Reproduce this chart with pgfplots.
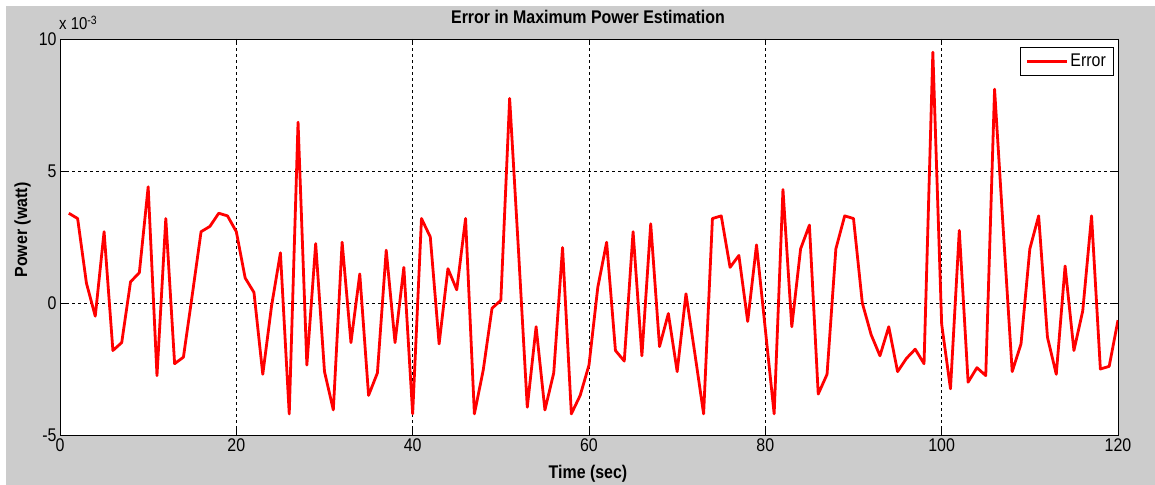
\documentclass[border=0pt]{standalone}
\usepackage{fontspec}
\setmainfont{Liberation Sans}
\usepackage{graphicx}
\usepackage{pgfplots}
\pgfplotsset{compat=1.18}
\definecolor{figgray}{RGB}{204,204,204}
\newcommand{\tall}[1]{\scalebox{1}[1.15]{#1}}
\begin{document}
\begin{tikzpicture}
\fill[white] (0,0) rectangle (1155bp,485bp);
\fill[figgray] (6bp,0) rectangle (1155bp,479bp);
\begin{axis}[
  at={(60bp,50bp)}, anchor=south west, scale only axis,
  width=1058bp, height=396bp,
  xmin=0, xmax=120, ymin=-5, ymax=10,
  xtick={0,20,...,120}, ytick={-5,0,5,10},
  xticklabel={\tall{\pgfmathprintnumber{\tick}}},
  yticklabel={\tall{\pgfmathprintnumber{\tick}}},
  axis background/.style={fill=white},
  grid=major,
  major grid style={black, dash pattern=on 3bp off 3bp, line width=0.6bp},
  tick align=inside, major tick length=6bp,
  tick style={black, line width=0.8bp},
  axis line style={black, line width=0.8bp},
  tick label style={font=\fontsize{16}{19}\selectfont},
  /pgf/number format/assume math mode=true,
  legend style={at={(1,1)}, anchor=north east, xshift=-5bp, yshift=-8bp,
    draw=black, fill=white, font=\fontsize{16}{19}\selectfont,
    inner xsep=5bp, inner ysep=5bp},
  legend cell align=left,
  legend image code/.code={\draw[#1] (0bp,0bp) -- (40bp,0bp);},
]
\addplot[red, line width=2.8bp, line join=round] coordinates {
(1,3.4) (2,3.2) (3,0.75) (4,-0.5) (5,2.7) (6,-1.8) (7,-1.5) (8,0.8) (9,1.15) (10,4.4)
(11,-2.75) (12,3.2) (13,-2.3) (14,-2.05) (15,0.3) (16,2.7) (17,2.9) (18,3.4) (19,3.3) (20,2.7)
(21,0.95) (22,0.4) (23,-2.7) (24,-0.1) (25,1.9) (26,-4.2) (27,6.85) (28,-2.35) (29,2.25) (30,-2.6)
(31,-4.05) (32,2.3) (33,-1.5) (34,1.1) (35,-3.5) (36,-2.65) (37,2.0) (38,-1.5) (39,1.35) (40,-4.2)
(41,3.2) (42,2.5) (43,-1.55) (44,1.3) (45,0.5) (46,3.2) (47,-4.2) (48,-2.55) (49,-0.2) (50,0.1)
(51,7.75) (52,2.0) (53,-3.95) (54,-0.9) (55,-4.05) (56,-2.65) (57,2.1) (58,-4.2) (59,-3.5) (60,-2.35)
(61,0.6) (62,2.3) (63,-1.8) (64,-2.2) (65,2.7) (66,-2.0) (67,3.0) (68,-1.65) (69,-0.4) (70,-2.6)
(71,0.35) (72,-1.9) (73,-4.2) (74,3.2) (75,3.3) (76,1.35) (77,1.8) (78,-0.7) (79,2.2) (80,-1.0)
(81,-4.2) (82,4.3) (83,-0.9) (84,2.05) (85,2.95) (86,-3.45) (87,-2.7) (88,2.05) (89,3.3) (90,3.2)
(91,0.0) (92,-1.2) (93,-2.0) (94,-0.9) (95,-2.6) (96,-2.1) (97,-1.75) (98,-2.3) (99,9.5) (100,-0.8)
(101,-3.25) (102,2.75) (103,-3.0) (104,-2.45) (105,-2.75) (106,8.1) (107,2.7) (108,-2.6) (109,-1.55) (110,2.05)
(111,3.3) (112,-1.3) (113,-2.7) (114,1.4) (115,-1.8) (116,-0.3) (117,3.3) (118,-2.5) (119,-2.4) (120,-0.65)
};
\addlegendentry{\tall{Error}}
\end{axis}
\node[font=\fontsize{16}{19}\selectfont\bfseries, anchor=base, inner sep=0pt] at (588bp,461bp) {\tall{Error in Maximum Power Estimation}};
\node[font=\fontsize{16}{19}\selectfont\bfseries, anchor=base, inner sep=0pt] at (588bp,7bp) {\tall{Time (sec)}};
\node[font=\fontsize{16}{19}\selectfont\bfseries, anchor=base, rotate=90, inner sep=0pt] at (27bp,255bp) {\scalebox{1}[1.1]{Power (watt)}};
\node[font=\fontsize{15}{18}\selectfont, anchor=base west, inner sep=0pt] at (59bp,455bp) {\tall{x 10\textsuperscript{-3}}};
\pgfresetboundingbox
\useasboundingbox (0,0) rectangle (1155bp,485bp);
\end{tikzpicture}
\end{document}
